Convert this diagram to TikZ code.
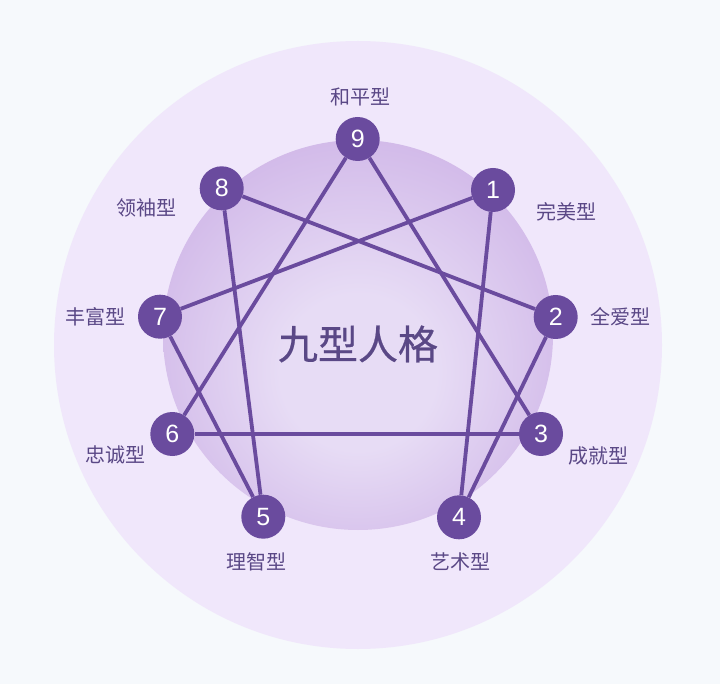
\documentclass[tikz,border=0pt]{standalone}
\usepackage{fontspec}
\usepackage{xcolor}
\usepackage{tikz}
\usetikzlibrary{positioning,backgrounds}
\setmainfont{Liberation Sans}
\newfontfamily\cjk{Noto Sans CJK SC}
\newfontfamily\cjkmid[FakeBold=0.6]{Noto Sans CJK SC}

\definecolor{pagebg}{HTML}{F6F9FC}
\definecolor{outerring}{HTML}{F0E7FB}
\definecolor{glowin}{HTML}{E7DCF5}
\definecolor{glowmid}{HTML}{D2BAE9}
\definecolor{glowout}{HTML}{C3A3DE}
\definecolor{enneapurple}{HTML}{6A4B9E}
\definecolor{labeltext}{HTML}{5A4886}
\pgfdeclareradialshading{enneaglow}{\pgfpoint{0bp}{-6bp}}{color(0bp)=(glowin); color(10bp)=(glowin); color(28bp)=(glowmid); color(50bp)=(glowout)}

\begin{document}
\begin{tikzpicture}[x=1pt, y=-1pt,
    typenode/.style={circle, fill=enneapurple, text=white, minimum size=44pt, inner sep=0pt, font=\fontsize{25}{25}\selectfont},
    typelabel/.style={text=labeltext, font=\cjk\fontsize{20}{20}\selectfont},
    link/.style={draw=enneapurple, line width=3.8pt}]
    \useasboundingbox[fill=pagebg] (0,0) rectangle (720,684);
    % rings
    \fill[outerring] (358,345) circle (304);
    \shade[shading=enneaglow] (358,335) circle (195);
    \node (title) at (358,344) [text=labeltext, font=\cjkmid\fontsize{40}{40}\selectfont] {九型人格};
    % the nine types
    \node (n9) at (357.7,139) [typenode] {9};
    \node (n1) at (493,190) [typenode] {1};
    \node (n2) at (555.7,317) [typenode] {2};
    \node (n3) at (541,434) [typenode] {3};
    \node (n4) at (459,517.3) [typenode] {4};
    \node (n5) at (263.3,516.7) [typenode] {5};
    \node (n6) at (172.3,434) [typenode] {6};
    \node (n7) at (160,316.7) [typenode] {7};
    \node (n8) at (221.7,188.3) [typenode] {8};
    % names
    \node (l9) at (360,96.7) [typelabel] {和平型};
    \node (l1) at (566.7,212) [typelabel] {完美型};
    \node (l2) at (620,317) [typelabel] {全爱型};
    \node (l3) at (598,456) [typelabel] {成就型};
    \node (l4) at (460,561.7) [typelabel] {艺术型};
    \node (l5) at (256.7,561.7) [typelabel] {理智型};
    \node (l6) at (115,455) [typelabel] {忠诚型};
    \node (l7) at (95,317.3) [typelabel] {丰富型};
    \node (l8) at (146.7,208) [typelabel] {领袖型};
    % triangle and hexad
    \draw[link] (n9) -- (n3);
    \draw[link] (n3) -- (n6);
    \draw[link] (n6) -- (n9);
    \draw[link] (n1) -- (n4);
    \draw[link] (n4) -- (n2);
    \draw[link] (n2) -- (n8);
    \draw[link] (n8) -- (n5);
    \draw[link] (n5) -- (n7);
    \draw[link] (n7) -- (n1);
\end{tikzpicture}
\end{document}
